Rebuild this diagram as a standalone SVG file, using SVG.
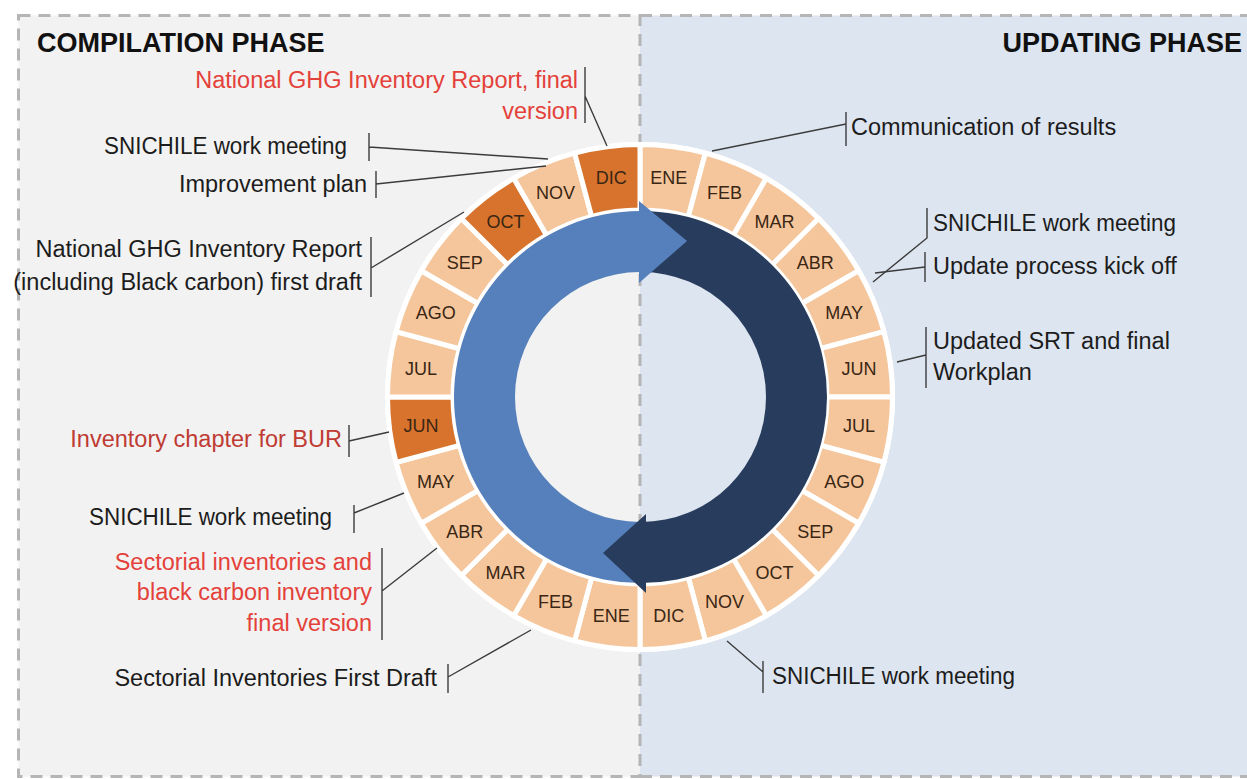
<svg xmlns="http://www.w3.org/2000/svg" width="1247" height="779" viewBox="0 0 1247 779">
<style>
.lbl{font-family:"Liberation Sans",Arial,sans-serif;font-size:23.5px;fill:#1c1c1c}
.red{fill:#e4413a}
.dred{fill:#bf3b33}
.ttl{font-family:"Liberation Sans",Arial,sans-serif;font-size:27px;font-weight:bold;fill:#111}
.mon{font-family:"Liberation Sans",Arial,sans-serif;font-size:18px;fill:#3a2614;text-anchor:middle}
.lt{fill:#f5c69b}
.dk{fill:#d7732d}
.seg{stroke:#fff;stroke-width:5;stroke-linejoin:miter}
.ln{stroke:#3c3c3c;stroke-width:1.4;fill:none}
.dash{fill:none;stroke:#b5b5b5;stroke-width:3;stroke-dasharray:12 8}
</style>
<defs>
<path id="seg" class="seg" d="M0,-252.5 A252.5,252.5 0 0 1 65.35,-243.9 L48.4,-180.63 A187,187 0 0 0 0,-187 Z"/>
</defs>

<g id="panels">
<rect x="18.5" y="15.5" width="621.5" height="761" fill="#f2f2f2"/>
<rect x="640" y="15.5" width="620" height="761" fill="#dde5f0"/>
<rect class="dash" x="18.5" y="15.5" width="621.5" height="761"/>
<path class="dash" d="M640,15.5 H1260 M640,776.5 H1260"/>
</g>

<g id="ring">
<circle cx="640" cy="397" r="220" fill="none" stroke="#fff" stroke-width="70"/>
</g>

<g id="right-months">
<g id="r-ene"><use href="#seg" class="lt" transform="translate(640 397) rotate(0)"/><text class="mon" x="668.8" y="184.2">ENE</text></g>
<g id="r-feb"><use href="#seg" class="lt" transform="translate(640 397) rotate(15)"/><text class="mon" x="724.6" y="199.1">FEB</text></g>
<g id="r-mar"><use href="#seg" class="lt" transform="translate(640 397) rotate(30)"/><text class="mon" x="774.5" y="228">MAR</text></g>
<g id="r-abr"><use href="#seg" class="lt" transform="translate(640 397) rotate(45)"/><text class="mon" x="815.3" y="268.8">ABR</text></g>
<g id="r-may"><use href="#seg" class="lt" transform="translate(640 397) rotate(60)"/><text class="mon" x="844.2" y="318.7">MAY</text></g>
<g id="r-jun"><use href="#seg" class="lt" transform="translate(640 397) rotate(75)"/><text class="mon" x="859.1" y="374.5">JUN</text></g>
<g id="r-jul"><use href="#seg" class="lt" transform="translate(640 397) rotate(90)"/><text class="mon" x="859.1" y="432.1">JUL</text></g>
<g id="r-ago"><use href="#seg" class="lt" transform="translate(640 397) rotate(105)"/><text class="mon" x="844.2" y="487.9">AGO</text></g>
<g id="r-sep"><use href="#seg" class="lt" transform="translate(640 397) rotate(120)"/><text class="mon" x="815.3" y="537.8">SEP</text></g>
<g id="r-oct"><use href="#seg" class="lt" transform="translate(640 397) rotate(135)"/><text class="mon" x="774.5" y="578.6">OCT</text></g>
<g id="r-nov"><use href="#seg" class="lt" transform="translate(640 397) rotate(150)"/><text class="mon" x="724.6" y="607.5">NOV</text></g>
<g id="r-dic"><use href="#seg" class="lt" transform="translate(640 397) rotate(165)"/><text class="mon" x="668.8" y="622.4">DIC</text></g>
</g>

<g id="left-months">
<g id="l-ene"><use href="#seg" class="lt" transform="translate(640 397) rotate(180)"/><text class="mon" x="611.2" y="622.4">ENE</text></g>
<g id="l-feb"><use href="#seg" class="lt" transform="translate(640 397) rotate(195)"/><text class="mon" x="555.4" y="607.5">FEB</text></g>
<g id="l-mar"><use href="#seg" class="lt" transform="translate(640 397) rotate(210)"/><text class="mon" x="505.5" y="578.6">MAR</text></g>
<g id="l-abr"><use href="#seg" class="lt" transform="translate(640 397) rotate(225)"/><text class="mon" x="464.7" y="537.8">ABR</text></g>
<g id="l-may"><use href="#seg" class="lt" transform="translate(640 397) rotate(240)"/><text class="mon" x="435.8" y="487.9">MAY</text></g>
<g id="l-jun"><use href="#seg" class="dk" transform="translate(640 397) rotate(255)"/><text class="mon" x="420.9" y="432.1">JUN</text></g>
<g id="l-jul"><use href="#seg" class="lt" transform="translate(640 397) rotate(270)"/><text class="mon" x="420.9" y="374.5">JUL</text></g>
<g id="l-ago"><use href="#seg" class="lt" transform="translate(640 397) rotate(285)"/><text class="mon" x="435.8" y="318.7">AGO</text></g>
<g id="l-sep"><use href="#seg" class="lt" transform="translate(640 397) rotate(300)"/><text class="mon" x="464.7" y="268.8">SEP</text></g>
<g id="l-oct"><use href="#seg" class="dk" transform="translate(640 397) rotate(315)"/><text class="mon" x="505.5" y="228">OCT</text></g>
<g id="l-nov"><use href="#seg" class="lt" transform="translate(640 397) rotate(330)"/><text class="mon" x="555.4" y="199.1">NOV</text></g>
<g id="l-dic"><use href="#seg" class="dk" transform="translate(640 397) rotate(345)"/><text class="mon" x="611.2" y="184.2">DIC</text></g>
</g>

<g id="cycle-arrows">
<path fill="#5680bb" d="M642,583 L640,583 A186,186 0 0 1 640,211 L640,272 A125,125 0 0 0 640,522 L642,522 Z"/>
<path fill="#283c5d" d="M641,211 A186,186 0 0 1 641,583 L641,522 A125,125 0 0 0 641,272 Z"/>
<polygon fill="#5680bb" points="639,201 687,241 639,283"/>
<polygon fill="#283c5d" points="646,514 603,553 646,593"/>
</g>

<g id="titles">
<text class="ttl" x="37" y="52">COMPILATION PHASE</text>
<text class="ttl" x="1242" y="52" text-anchor="end">UPDATING PHASE</text>
</g>

<g id="note-final-report"><text class="lbl red" text-anchor="end"><tspan x="578" y="88">National GHG Inventory Report, final</tspan><tspan x="578" y="119">version</tspan></text></g>
<g id="note-snichile-1"><text class="lbl" text-anchor="end" x="347" y="154" textLength="243" lengthAdjust="spacingAndGlyphs">SNICHILE work meeting</text></g>
<g id="note-improvement"><text class="lbl" text-anchor="end" x="367" y="192">Improvement plan</text></g>
<g id="note-first-draft"><text class="lbl" text-anchor="end"><tspan x="362" y="257">National GHG Inventory Report</tspan><tspan x="362" y="290">(including Black carbon) first draft</tspan></text></g>
<g id="note-bur"><text class="lbl dred" text-anchor="end" x="342" y="447">Inventory chapter for BUR</text></g>
<g id="note-snichile-2"><text class="lbl" text-anchor="end" x="332" y="525" textLength="243" lengthAdjust="spacingAndGlyphs">SNICHILE work meeting</text></g>
<g id="note-sectorial-final"><text class="lbl red" text-anchor="end"><tspan x="372" y="570">Sectorial inventories and</tspan><tspan x="372" y="600">black carbon inventory</tspan><tspan x="372" y="631">final version</tspan></text></g>
<g id="note-sectorial-draft"><text class="lbl" text-anchor="end" x="437" y="686">Sectorial Inventories First Draft</text></g>
<g id="note-communication"><text class="lbl" x="851" y="135">Communication of results</text></g>
<g id="note-snichile-3"><text class="lbl" x="933" y="231" textLength="243" lengthAdjust="spacingAndGlyphs">SNICHILE work meeting</text></g>
<g id="note-kickoff"><text class="lbl" x="933" y="274">Update process kick off</text></g>
<g id="note-srt"><text class="lbl"><tspan x="933" y="349">Updated SRT and final</tspan><tspan x="933" y="380">Workplan</tspan></text></g>
<g id="note-snichile-4"><text class="lbl" x="772" y="684" textLength="243" lengthAdjust="spacingAndGlyphs">SNICHILE work meeting</text></g>

<g id="connectors" class="ln">
<path d="M585,67 V123 M585,96 L607,146"/>
<path d="M369,133 V161 M369,147 L548,159"/>
<path d="M376,171 V198 M376,184 L546,166"/>
<path d="M371,237 V297 M371,268 L464,212"/>
<path d="M349,425 V457 M349,441 L389,432"/>
<path d="M354,505 V533 M354,513 L404,493"/>
<path d="M382,548 V640 M382,591 L437,548"/>
<path d="M448,664 V693 M448,677 L531,630"/>
<path d="M846,112 V146 M846,124 L712,151"/>
<path d="M927,208 V238 L873,282"/>
<path d="M925,252 V282 M925,267 L875,273"/>
<path d="M926,327 V388 M926,355 L897,362"/>
<path d="M763,661 V693 M763,672 L727,641"/>
</g>
</svg>
